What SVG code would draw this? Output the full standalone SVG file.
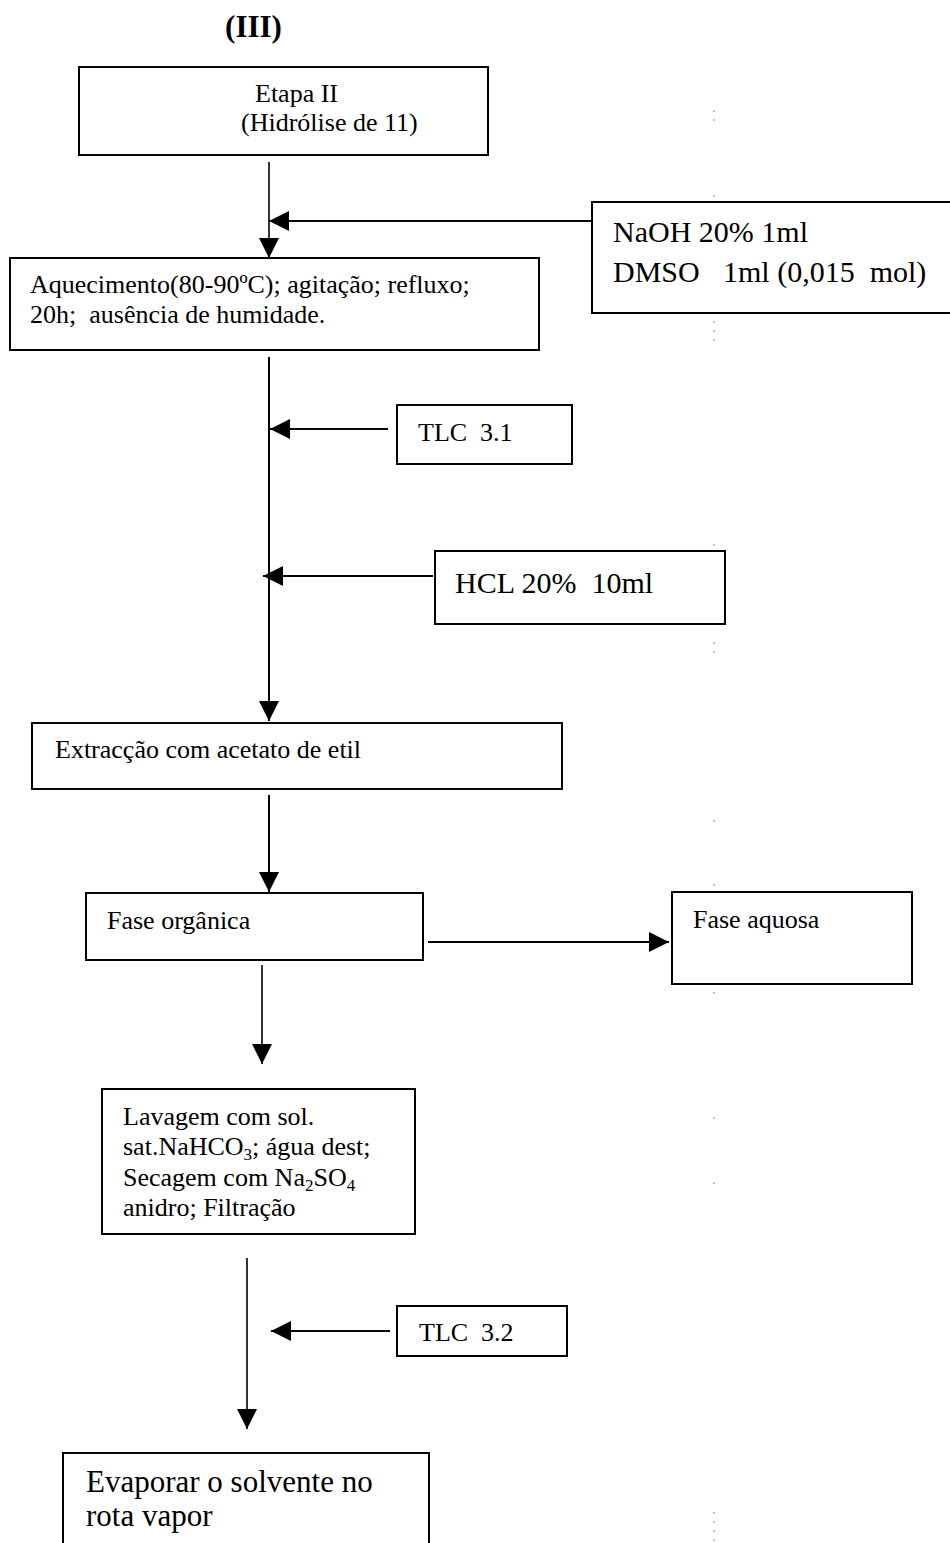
<svg xmlns="http://www.w3.org/2000/svg" width="950" height="1543" viewBox="0 0 950 1543">
  <style>
    .box { fill: #fff; stroke: #000; stroke-width: 2; }
    .t { font-family: "Liberation Serif", "Times New Roman", serif; fill: #000; font-size: 26px; }
    .t.big { font-size: 30px; }
    .t.huge { font-size: 31px; }
    .t.title { font-size: 31px; font-weight: bold; }
    .sub { font-size: 17px; }
    .conn line { stroke: #000; stroke-width: 2; }
    .conn line.thin { stroke-width: 1.6; }
    .margin line { stroke: #888; stroke-width: 1; stroke-dasharray: 2 7; }
  </style>
  <defs>
    <marker id="head" markerUnits="userSpaceOnUse" viewBox="0 0 20 20" refX="20" refY="10" markerWidth="20" markerHeight="20" orient="auto">
      <path d="M0,0 L20,10 L0,20 z" fill="#000"/>
    </marker>
  </defs>
  <rect width="950" height="1543" fill="#fff"/>

  <!-- faint page margin rule -->
  <g class="margin">
    <line x1="714" y1="110" x2="714" y2="125"/>
    <line x1="714" y1="195" x2="714" y2="342"/>
    <line x1="714" y1="544" x2="714" y2="620"/>
    <line x1="714" y1="642" x2="714" y2="660"/>
    <line x1="714" y1="820" x2="714" y2="826"/>
    <line x1="714" y1="884" x2="714" y2="1000"/>
    <line x1="714" y1="1117" x2="714" y2="1122"/>
    <line x1="714" y1="1182" x2="714" y2="1186"/>
    <line x1="714" y1="1512" x2="714" y2="1541"/>
  </g>

  <!-- title -->
  <text class="t title" x="253.5" y="37" text-anchor="middle">(III)</text>

  <!-- connectors -->
  <g class="conn">
    <line class="thin" x1="269" y1="162" x2="269" y2="258" marker-end="url(#head)"/>
    <line x1="592" y1="221" x2="269" y2="221" marker-end="url(#head)"/>
    <line x1="269" y1="357" x2="269" y2="721" marker-end="url(#head)"/>
    <line x1="388" y1="429" x2="270" y2="429" marker-end="url(#head)"/>
    <line x1="433" y1="576" x2="263" y2="576" marker-end="url(#head)"/>
    <line x1="269" y1="795" x2="269" y2="892" marker-end="url(#head)"/>
    <line x1="428" y1="942" x2="669" y2="942" marker-end="url(#head)"/>
    <line class="thin" x1="262" y1="965" x2="262" y2="1064" marker-end="url(#head)"/>
    <line class="thin" x1="247" y1="1258" x2="247" y2="1429" marker-end="url(#head)"/>
    <line x1="390" y1="1331" x2="271" y2="1331" marker-end="url(#head)"/>
  </g>

  <!-- nodes -->
  <g id="etapa">
    <rect class="box" x="79" y="67" width="409" height="88"/>
    <text class="t" x="255" y="102">Etapa II</text>
    <text class="t" x="241" y="131">(Hidrólise de 11)</text>
  </g>

  <g id="reagentes">
    <rect class="box" x="592" y="202" width="370" height="111"/>
    <text class="t big" x="613" y="242">NaOH 20% 1ml</text>
    <text class="t big" x="613" y="282">DMSO</text>
    <text class="t big" x="723" y="282" xml:space="preserve">1ml (0,015  mol)</text>
  </g>

  <g id="aquecimento">
    <rect class="box" x="10" y="258" width="529" height="92"/>
    <text class="t" x="30" y="293">Aquecimento(80-90ºC); agitação; refluxo;</text>
    <text class="t" x="30" y="323" xml:space="preserve">20h;  ausência de humidade.</text>
  </g>

  <g id="tlc31">
    <rect class="box" x="397" y="405" width="175" height="59"/>
    <text class="t" x="418" y="441" xml:space="preserve">TLC  3.1</text>
  </g>

  <g id="hcl">
    <rect class="box" x="435" y="551" width="290" height="73"/>
    <text class="t big" x="455" y="593" xml:space="preserve">HCL 20%  10ml</text>
  </g>

  <g id="extraccao">
    <rect class="box" x="32" y="723" width="530" height="66"/>
    <text class="t" x="55" y="758">Extracção com acetato de etil</text>
  </g>

  <g id="fase-organica">
    <rect class="box" x="86" y="893" width="337" height="67"/>
    <text class="t" x="107" y="929">Fase orgânica</text>
  </g>

  <g id="fase-aquosa">
    <rect class="box" x="672" y="892" width="240" height="92"/>
    <text class="t" x="693" y="928">Fase aquosa</text>
  </g>

  <g id="lavagem">
    <rect class="box" x="102" y="1089" width="313" height="145"/>
    <text class="t" x="123" y="1125">Lavagem com sol.</text>
    <text class="t" x="123" y="1155">sat.NaHCO<tspan class="sub" dy="5">3</tspan><tspan dy="-5">; água dest;</tspan></text>
    <text class="t" x="123" y="1186">Secagem com Na<tspan class="sub" dy="5">2</tspan><tspan dy="-5">SO</tspan><tspan class="sub" dy="5">4</tspan></text>
    <text class="t" x="123" y="1216">anidro; Filtração</text>
  </g>

  <g id="tlc32">
    <rect class="box" x="397" y="1306" width="170" height="50"/>
    <text class="t" x="419" y="1341" xml:space="preserve">TLC  3.2</text>
  </g>

  <g id="evaporar">
    <rect class="box" x="63" y="1453" width="366" height="100"/>
    <text class="t huge" x="86" y="1492">Evaporar o solvente no</text>
    <text class="t huge" x="86" y="1526">rota vapor</text>
  </g>
</svg>
